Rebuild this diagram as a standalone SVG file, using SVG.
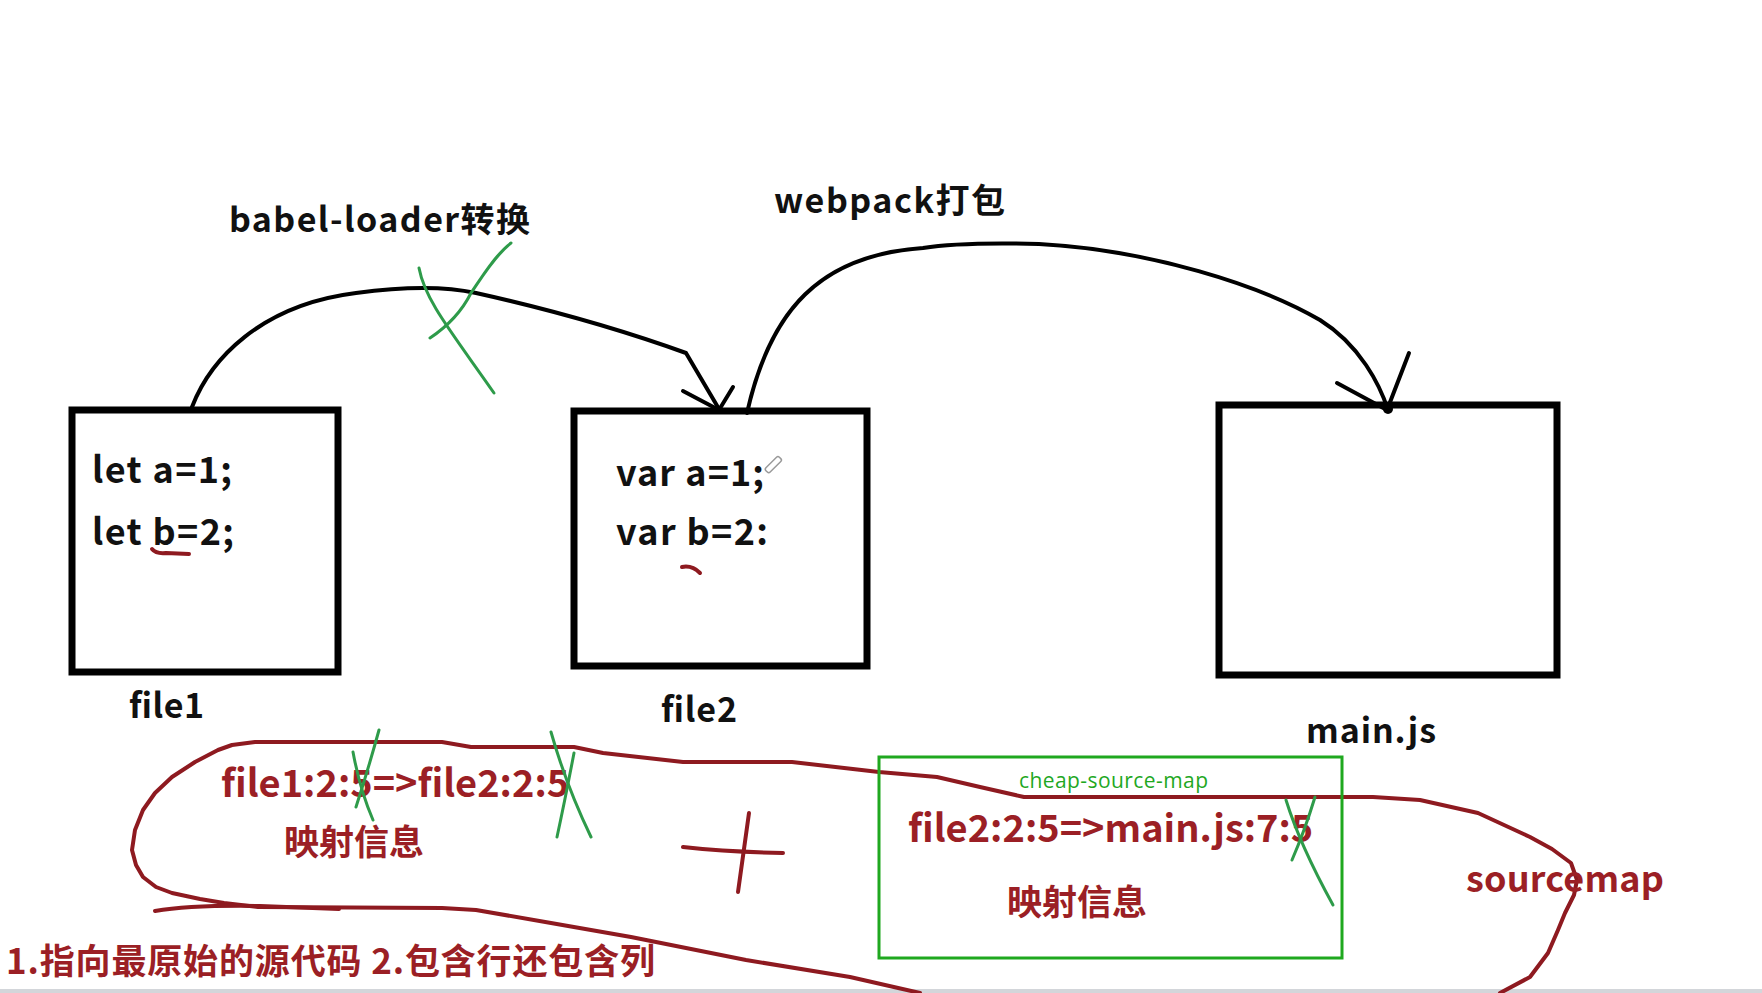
<svg xmlns="http://www.w3.org/2000/svg" width="1762" height="993" viewBox="0 0 1762 993">
<style>
.t{font-family:"Noto Sans CJK SC","Noto Sans",sans-serif;font-weight:bold;fill:#111}
.r{font-family:"Noto Sans CJK SC","Noto Sans",sans-serif;font-weight:bold;fill:#9b1f25}
.g{font-family:"Open Sans","Noto Sans","Liberation Sans",sans-serif;font-weight:normal;fill:#1fa81f}
.box{fill:#fff;stroke:#000;stroke-width:7}
.ink{fill:none;stroke:#000;stroke-width:4;stroke-linecap:round;stroke-linejoin:round}
.red{fill:none;stroke:#8e1a20;stroke-width:4;stroke-linecap:round;stroke-linejoin:round}
.grn{fill:none;stroke:#2e9b4a;stroke-width:3;stroke-linecap:round;stroke-linejoin:round}
</style>
<rect width="1762" height="993" fill="#fff"/>
<rect x="0" y="989" width="1762" height="4" fill="#d3d6da"/>

<g id="labels">
<text class="t" x="229" y="232" font-size="34" textLength="301" lengthAdjust="spacing">babel-loader转换</text>
<text class="t" x="774" y="213" font-size="34" textLength="231" lengthAdjust="spacing">webpack打包</text>
</g>

<g id="file1">
<rect class="box" x="72" y="410" width="266" height="262"/>
<text class="t" x="92" y="483" font-size="36" textLength="140" lengthAdjust="spacing">let a=1;</text>
<text class="t" x="92" y="545" font-size="36" textLength="142" lengthAdjust="spacing">let b=2;</text>
<path class="red" d="M152,549 Q156,554 166,553 L189,554"/>
<text class="t" x="129" y="718" font-size="34" textLength="75" lengthAdjust="spacing">file1</text>
</g>

<g id="file2">
<rect class="box" x="574" y="411" width="293" height="255"/>
<text class="t" x="616" y="486" font-size="36" textLength="148" lengthAdjust="spacing">var a=1;</text>
<text class="t" x="616" y="545" font-size="36" textLength="152" lengthAdjust="spacing">var b=2:</text>
<path class="red" d="M682,567 Q692,565 700,573"/>
<g transform="rotate(-45 773 465)"><rect x="764" y="462" width="19" height="6" rx="2" fill="#fff" stroke="#9a9a9a" stroke-width="1.5"/></g>
<text class="t" x="661" y="722" font-size="34" textLength="76" lengthAdjust="spacing">file2</text>
</g>

<g id="mainjs">
<rect class="box" x="1219" y="405" width="338" height="270"/>
<text class="t" x="1306" y="743" font-size="34" textLength="130" lengthAdjust="spacing">main.js</text>
</g>

<g id="connectors">
<path class="ink" d="M192,407 C210,360 260,305 356,293 C400,287 440,285 476,293 C530,305 600,322 686,353 L719,409"/>
<path class="ink" d="M683,391 L719,410 L733,387"/>
<path class="ink" d="M747,413 C770,310 820,255 923,248 Q960,242 1039,244 C1150,250 1260,285 1320,320 C1360,345 1380,385 1388,410"/>
<path class="ink" d="M1337,383 L1387,410 L1409,353"/>
<circle cx="1388" cy="409" r="5" fill="#000"/>
</g>

<g id="sourcemap">
<path class="red" d="M1500,993 L1530,977 L1548,953 L1558,930 L1565,913 L1574,895 L1577,880 L1571,863 L1552,849 L1530,837 L1478,813 L1420,800 L1373,797 L1024,797 L980,787 L937,777 L879,772 L792,762 L683,762 L603,753 L574,747 L471,747 L442,742 L255,742 L232,745 L218,750 L195,762 L172,777 L155,793 L143,810 L135,830 L132,850 L136,865 L143,877 L156,887 L172,893 L200,899 L224,903 L258,907 L442,908 L476,910 L551,923 L631,937 L746,960 L850,977 L920,993"/>
<path class="red" stroke-width="5" d="M155,911 Q190,905 260,906 L339,909"/>
<text class="r" x="1466" y="892" font-size="36" textLength="198" lengthAdjust="spacing">sourcemap</text>
<text class="r" x="221" y="797" font-size="38">file1:2:5=&gt;file2:2:5</text>
<text class="r" x="284" y="855" font-size="35">映射信息</text>
<path class="red" d="M683,847 Q730,852 783,853"/>
<path class="red" d="M749,813 Q744,850 738,892"/>
<text class="r" x="6" y="974" font-size="35" textLength="649" lengthAdjust="spacing">1.指向最原始的源代码 2.包含行还包含列</text>
</g>

<g id="cheap">
<rect x="879" y="757" width="463" height="201" fill="none" stroke="#1fa81f" stroke-width="3"/>
<text class="g" x="1019" y="788" font-size="21" textLength="189" lengthAdjust="spacing">cheap-source-map</text>
<text class="r" x="908" y="842" font-size="38">file2:2:5=&gt;main.js:7:5</text>
<text class="r" x="1007" y="915" font-size="35">映射信息</text>
</g>

<g id="crosses">
<path class="grn" d="M419,268 C425,300 450,330 494,393"/>
<path class="grn" d="M511,243 C495,255 480,280 471,293 C460,315 445,328 430,338"/>
<path class="grn" d="M379,730 Q368,770 356,807"/>
<path class="grn" d="M353,752 Q360,790 373,820"/>
<path class="grn" d="M551,732 Q566,785 591,837"/>
<path class="grn" d="M574,753 Q565,800 557,837"/>
<path class="grn" d="M1286,800 Q1300,845 1333,905"/>
<path class="grn" d="M1315,797 Q1305,830 1292,860"/>
</g>
</svg>
